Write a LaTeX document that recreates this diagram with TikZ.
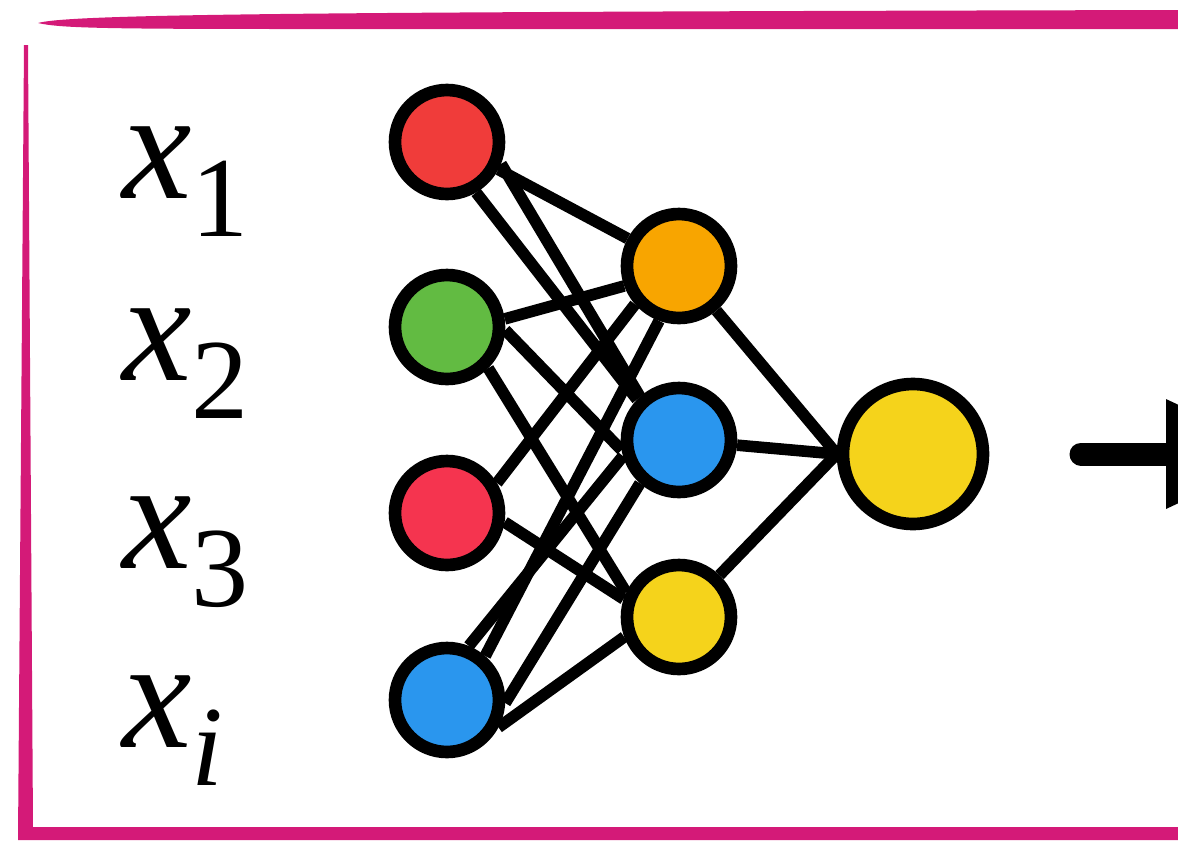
\documentclass[tikz,border=0pt]{standalone}
\usepackage{fontspec}
\setmainfont{Liberation Serif}
\usetikzlibrary{arrows.meta}
\definecolor{framepink}{HTML}{D41A78}
\definecolor{inred}{HTML}{F03C3A}
\definecolor{ingreen}{HTML}{62BB42}
\definecolor{inrose}{HTML}{F5344F}
\definecolor{netblue}{HTML}{2A96EE}
\definecolor{netorange}{HTML}{F8A500}
\definecolor{netyellow}{HTML}{F5D31B}
\newcommand{\invar}[1]{\textit{x}\raisebox{-22pt}{\fontsize{65}{65}\selectfont #1}}

\begin{document}
\begin{tikzpicture}[x=0.02cm,y=-0.02cm,
  neuron/.style={circle,draw=black,line width=7.2pt,inner sep=0pt,minimum size=2.08cm},
  link/.style={line width=6.6pt},
  varlabel/.style={anchor=base west,inner sep=0pt,font=\fontsize{89}{89}\selectfont}]
  \useasboundingbox (0,0) rectangle (1178,840);
  % pink frame
  \fill[framepink] (38,23) .. controls (70,14) and (300,12) .. (1178,10) -- (1178,29)
    -- (300,29) .. controls (100,29) and (60,28) .. (38,23) -- cycle;
  \fill[framepink] (24,45) -- (28,45) -- (33,827) -- (1178,827) -- (1178,840) -- (18,840) -- cycle;
  % input labels
  \node[varlabel] (lx1) at (122,198) {\invar{1}};
  \node[varlabel] (lx2) at (122,380) {\invar{2}};
  \node[varlabel] (lx3) at (122,568) {\invar{3}};
  \node[varlabel] (lxi) at (122,747) {\invar{\textit{i}}};
  % neurons
  \node[neuron,fill=inred] (i1) at (447,142) {};
  \node[neuron,fill=ingreen] (i2) at (447,327) {};
  \node[neuron,fill=inrose] (i3) at (447,513) {};
  \node[neuron,fill=netblue] (i4) at (447,700) {};
  \node[neuron,fill=netorange] (h1) at (679,266) {};
  \node[neuron,fill=netblue] (h2) at (679,440) {};
  \node[neuron,fill=netyellow] (h3) at (679,617) {};
  \node[neuron,fill=netyellow,minimum size=2.8cm] (out) at (913,454) {};
  % connections, input -> hidden
  \foreach \a/\b in {i1/h1,i1.-22/h2.132,i1.-60/h2.136,
                     i2.8/h1.200,i2.-3/h2.190,i2.-45/h3.155,
                     i3.31/h1.221,i3.-9/h3.162,
                     i4.49/h1.250,i4.68/h2.196,i4.-3/h2.228,i4.-28/h3.200}
    \draw[link] (\a) -- (\b);
  % hidden -> output
  \foreach \h in {h1,h2,h3}
    \draw[link] (\h) -- (out.west);
  % output arrow, head runs off the page
  \coordinate (arrtail) at (1081,454);
  \coordinate (arrtip) at (1286,454);
  \draw[line width=0.46cm,line cap=round,-{Triangle[length=2.4cm,width=2.06cm]}] (arrtail) -- (arrtip);
\end{tikzpicture}
\end{document}
